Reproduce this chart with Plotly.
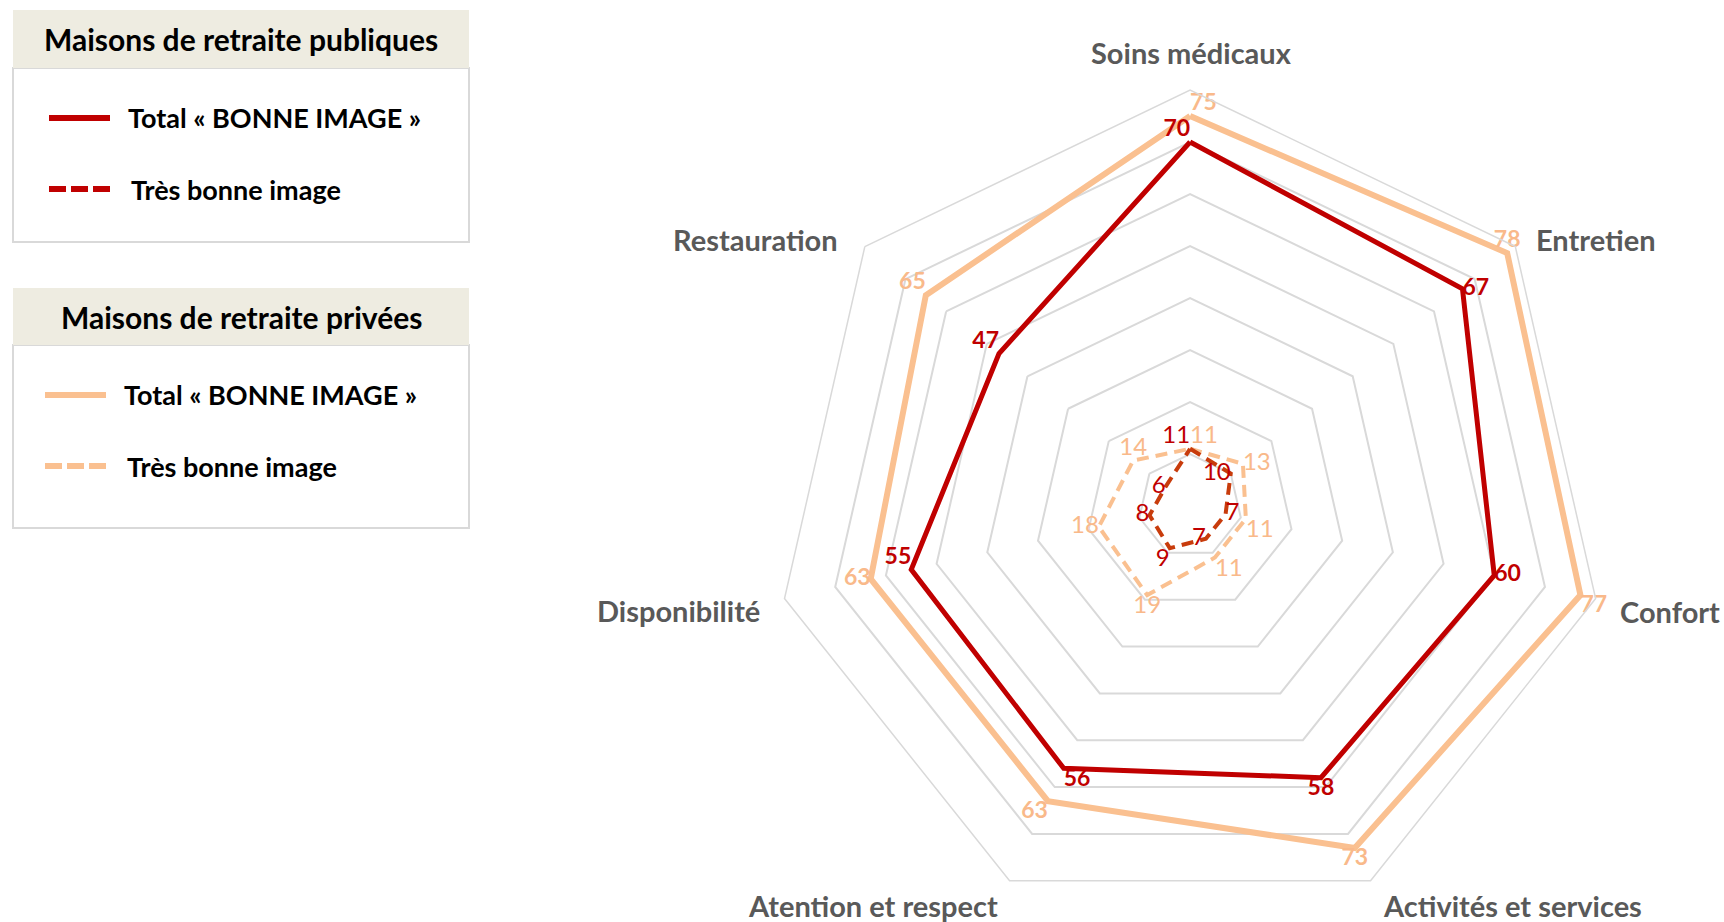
import plotly.graph_objects as go

categories = ["Soins médicaux", "Entretien", "Confort", "Activités et services",
              "Atention et respect", "Disponibilité", "Restauration"]

public_total = [70, 67, 60, 58, 56, 55, 47]
public_tres_bonne = [11, 10, 7, 7, 9, 8, 6]
private_total = [75, 78, 77, 73, 63, 63, 65]
private_tres_bonne = [11, 13, 11, 11, 19, 18, 14]

RED = "#C00000"
RED_DASH = "#C83C0C"
ORANGE = "#FAC090"
ORANGE_TXT = "#F9B98A"
GRID = "#D9D9D9"
FONT = "Lato"
W, H = 1724, 922


def px_x(v):
    return v / W


def px_y(v):
    return 1 - v / H


def closed(values):
    return list(values) + [values[0]]


def radar_trace(values, color, txt_color, dash, width, positions, bold, size):
    return go.Scatterpolar(
        r=closed(values),
        theta=closed(categories),
        mode="lines+text",
        line=dict(color=color, width=width, dash=dash),
        text=[str(v) for v in values] + [""],
        textposition=positions + ["middle center"],
        textfont=dict(family=FONT, size=size, color=txt_color,
                      weight="bold" if bold else "normal"),
        showlegend=False,
        hoverinfo="skip",
        cliponaxis=False,
    )


fig = go.Figure()

fig.add_trace(radar_trace(private_total, ORANGE, ORANGE_TXT, "solid", 6,
                          ["top right", "top center", "bottom right", "bottom center",
                           "bottom left", "middle left", "top left"], True, 23))
fig.add_trace(radar_trace(public_total, RED, RED, "solid", 5,
                          ["top left", "middle right", "middle right", "bottom center",
                           "bottom right", "top left", "top left"], True, 23))
fig.add_trace(radar_trace(private_tres_bonne, ORANGE, ORANGE_TXT, "12px,7px", 4,
                          ["top right", "middle right", "bottom right", "bottom right",
                           "bottom center", "middle left", "top center"], False, 24))
fig.add_trace(radar_trace(public_tres_bonne, RED_DASH, RED, "12px,7px", 4,
                          ["top left", "middle left", "middle right", "middle left",
                           "bottom left", "middle left", "middle left"], False, 24))

fig.update_layout(
    width=W,
    height=H,
    margin=dict(l=0, r=0, t=0, b=0),
    paper_bgcolor="white",
    plot_bgcolor="white",
    polar=dict(
        domain=dict(x=[0.449, 0.9316], y=[0.0, 0.9024]),
        bgcolor="white",
        gridshape="linear",
        radialaxis=dict(range=[0, 80], tickvals=[10, 20, 30, 40, 50, 60, 70, 80],
                        showticklabels=False, ticks="", showline=False,
                        gridcolor=GRID, gridwidth=1.5),
        angularaxis=dict(rotation=90, direction="clockwise", showgrid=False,
                         showline=True, linecolor=GRID, linewidth=1.5, ticks="",
                         showticklabels=False),
    ),
)

# category labels (placed like the original, closer to the frame than plotly's ticks)
label_spots = [(1191, 53, "center"), (1534, 239, "left"), (1618, 611, "left"),
               (1381, 905, "left"), (1000, 905, "right"), (762, 610, "right"),
               (840, 239, "right")]
for name, (lx, ly, anchor) in zip(categories, label_spots):
    fig.add_annotation(x=px_x(lx), y=px_y(ly), xref="paper", yref="paper",
                       text=name, showarrow=False, xanchor=anchor, yanchor="middle",
                       font=dict(family=FONT, size=29, color="#595959", weight="bold"))

# legend boxes drawn as shapes and annotations
boxes = [
    ("Maisons de retraite publiques", 10, 68, 242, RED, 49),
    ("Maisons de retraite privées", 288, 345, 528, ORANGE, 45),
]
items = ["Total « BONNE IMAGE »", "Très bonne image"]

for title, top, mid, bottom, color, lx in boxes:
    fig.add_shape(type="rect", xref="paper", yref="paper",
                  x0=px_x(13), x1=px_x(469), y0=px_y(bottom), y1=px_y(mid),
                  line=dict(color=GRID, width=2), fillcolor="white", layer="below")
    fig.add_shape(type="rect", xref="paper", yref="paper",
                  x0=px_x(13), x1=px_x(469), y0=px_y(mid), y1=px_y(top),
                  line=dict(width=0), fillcolor="#EEECE1", layer="below")
    fig.add_annotation(x=px_x(241), y=px_y((top + mid) / 2), xref="paper", yref="paper",
                       text=title, showarrow=False, xanchor="center", yanchor="middle",
                       font=dict(family=FONT, size=30, color="black", weight="bold"))
    for i, (label, dash) in enumerate(zip(items, ["solid", "17px,5px"])):
        yy = mid + 50 + i * 71
        fig.add_shape(type="line", xref="paper", yref="paper",
                      x0=px_x(lx), x1=px_x(lx + 61), y0=px_y(yy), y1=px_y(yy),
                      line=dict(color=color, width=6, dash=dash))
        fig.add_annotation(x=px_x(lx + 77 + 3 * i), y=px_y(yy), xref="paper", yref="paper",
                           text=label, showarrow=False, xanchor="left", yanchor="middle",
                           font=dict(family=FONT, size=27, color="black", weight="bold"))

fig.write_html("out.html", config={"displayModeBar": False},
               post_script="document.body.style.margin = '0';")
